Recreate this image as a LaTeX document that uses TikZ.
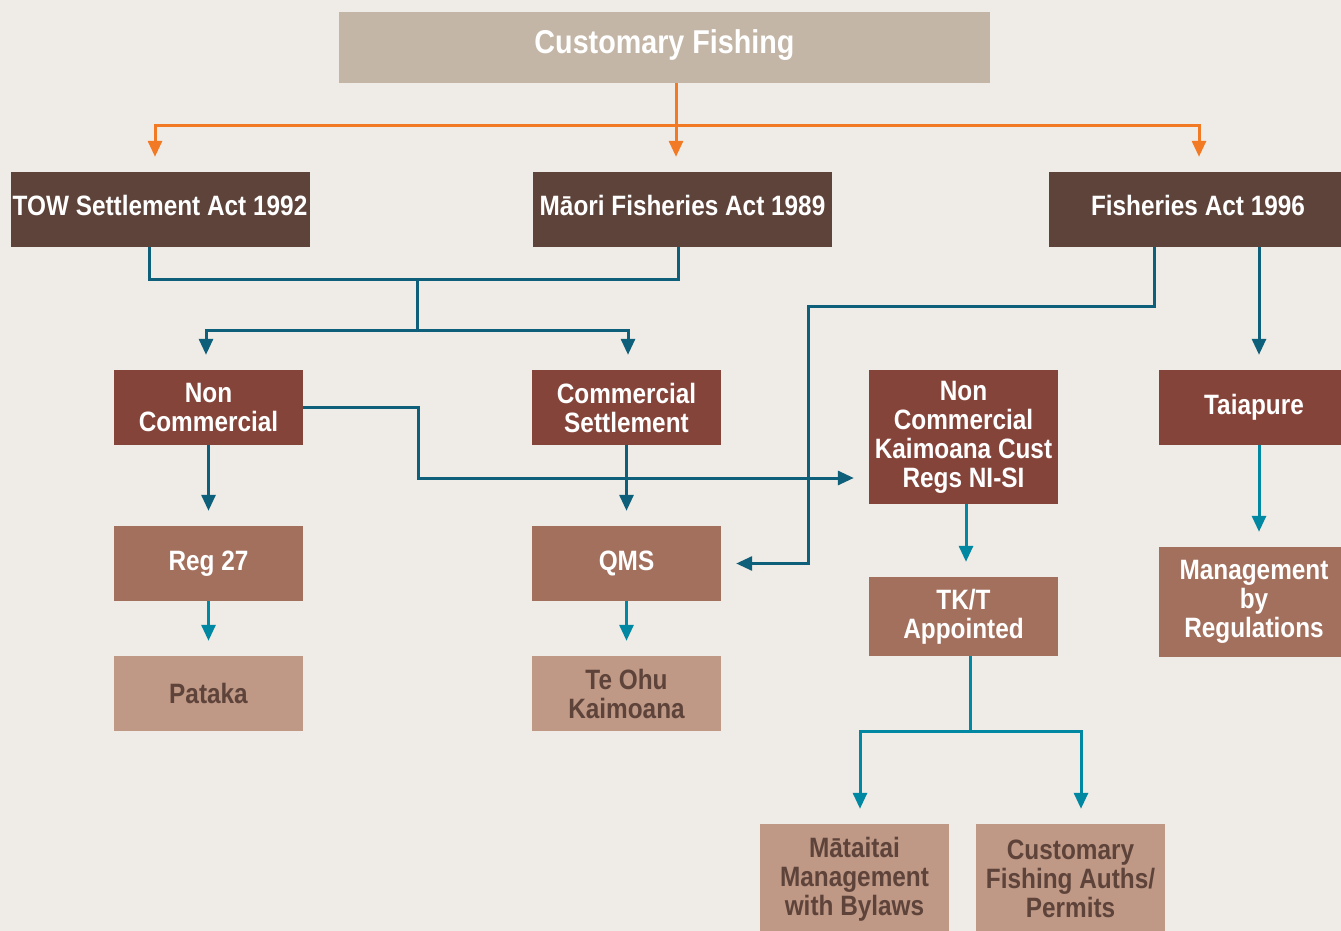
\documentclass[tikz,border=0pt]{standalone}
\usepackage{fontspec}
\setmainfont{Liberation Sans}[FakeStretch=0.87]
\usetikzlibrary{arrows.meta,positioning}

\definecolor{bgcream}{HTML}{EFEBE6}
\definecolor{titlesand}{HTML}{C4B6A6}
\definecolor{actbrown}{HTML}{5E433A}
\definecolor{rulered}{HTML}{85443A}
\definecolor{toolbrown}{HTML}{A3705E}
\definecolor{bodypink}{HTML}{BF9886}
\definecolor{flowamber}{HTML}{F27A24}
\definecolor{tealdark}{HTML}{0E5F7A}
\definecolor{teallight}{HTML}{0088A2}

\begin{document}
\begin{tikzpicture}[x=1pt,y=-1pt,on grid,
	box/.style={rectangle,inner sep=0pt,minimum width=189pt,minimum height=75pt,align=center,text=white,font=\bfseries\fontsize{28}{29}\selectfont},
	act/.style={box,fill=actbrown,minimum width=299pt,text depth=8pt},
	rulebox/.style={box,fill=rulered},
	toolbox/.style={box,fill=toolbrown},
	bodybox/.style={box,fill=bodypink,text=actbrown},
	tip/.style={-{Triangle[length=16pt,width=14pt]},shorten >=15pt},
	amber/.style={line width=3pt,draw=flowamber},
	deep/.style={line width=3pt,draw=tealdark},
	pale/.style={line width=3pt,draw=teallight}]
		\fill[bgcream] (0,0) rectangle (1341,931);
		\clip (0,0) rectangle (1341,931);
		% top
		\node[box,fill=titlesand,minimum width=651pt,minimum height=71pt,text depth=11pt,font=\bfseries\fontsize{33}{36}\selectfont](cf) at (664.5,47.5) {Customary Fishing};
		% acts
		\node[act](tow) at (160,209.5) {TOW Settlement Act 1992};
		\node[act](mfa) at (682.5,209.5) {Māori Fisheries Act 1989};
		\node[act](fa) at (1198,209.5) {Fisheries Act 1996};
		% rules
		\node[rulebox](nc) at (208.5,407.5) {Non\\Commercial};
		\node[rulebox](cs) at (626.5,407.5) {Commercial\\Settlement};
		\node[rulebox,minimum height=134pt](kcr) at (963.5,437) {Non\\Commercial\\Kaimoana Cust\\Regs NI-SI};
		\node[rulebox,minimum width=190pt](tai) at (1254,407.5) {Taiapure};
		% tools
		\node[toolbox](reg)[below=156pt of nc] {Reg 27};
		\node[toolbox](qms)[below=156pt of cs] {QMS};
		\node[toolbox,minimum height=79pt](tkt)[below=179.5pt of kcr] {TK/T\\Appointed};
		\node[toolbox,minimum width=190pt,minimum height=110pt](mbr)[below=194.5pt of tai] {Management\\by\\Regulations};
		% bodies
		\node[bodybox](pat)[below=130pt of reg] {Pataka};
		\node[bodybox](toh)[below=130pt of qms] {Te Ohu\\Kaimoana};
		\node[bodybox,minimum height=110pt](mat) at (854.5,879) {Mātaitai\\Management\\with Bylaws};
		\node[bodybox,minimum height=110pt](cfp) at (1070.5,879) {Customary\\Fishing Auths/\\Permits};
		\coordinate (ca) at (676,126);
		\coordinate (ja) at (417,279);
		\coordinate (jb) at (417,330);
		\coordinate (fb) at (808,306);
		\coordinate (nb) at (418,478);
		\coordinate (tb) at (970,731);
		% orange split
		\draw[amber] ([xshift=11.5pt]cf.south) -- (ca);
		\draw[amber,tip] (ca) -- ([xshift=-6.5pt]mfa.north);
		\draw[amber,tip] (ca) -| ([xshift=-5pt]tow.north);
		\draw[amber,tip] (ca) -| ([xshift=1pt]fa.north);
		% settlement acts
		\draw[deep] ([xshift=-11pt]tow.south) |- (ja) -| ([xshift=-4.5pt]mfa.south);
		\draw[deep] (ja) -- (jb);
		\draw[deep,tip] (jb) -| ([xshift=-2.5pt]nc.north);
		\draw[deep,tip] (jb) -| ([xshift=1.5pt]cs.north);
		\draw[deep,tip] (nc.east) -| (nb) -- (nb -| kcr.west);
		\draw[deep,tip] (nc) -- (reg);
		\draw[deep,tip] (cs) -- (qms);
		% fisheries act
		\draw[deep,tip] ([xshift=-44pt]fa.south) |- (fb) |- (qms.east);
		\draw[deep,tip] ([xshift=61pt]fa.south) -- ([xshift=5pt]tai.north);
		% lower arrows
		\draw[pale,tip] (reg) -- (pat);
		\draw[pale,tip] (qms) -- (toh);
		\draw[pale,tip] ([xshift=2.5pt]kcr.south) -- ([xshift=2.5pt]tkt.north);
		\draw[pale,tip] ([xshift=5pt]tai.south) -- ([xshift=5pt]mbr.north);
		\draw[pale] (tkt.south -| tb) -- (tb);
		\draw[pale,tip] (tb) -| ([xshift=5.5pt]mat.north);
		\draw[pale,tip] (tb) -| ([xshift=10.5pt]cfp.north);
\end{tikzpicture}
\end{document}
